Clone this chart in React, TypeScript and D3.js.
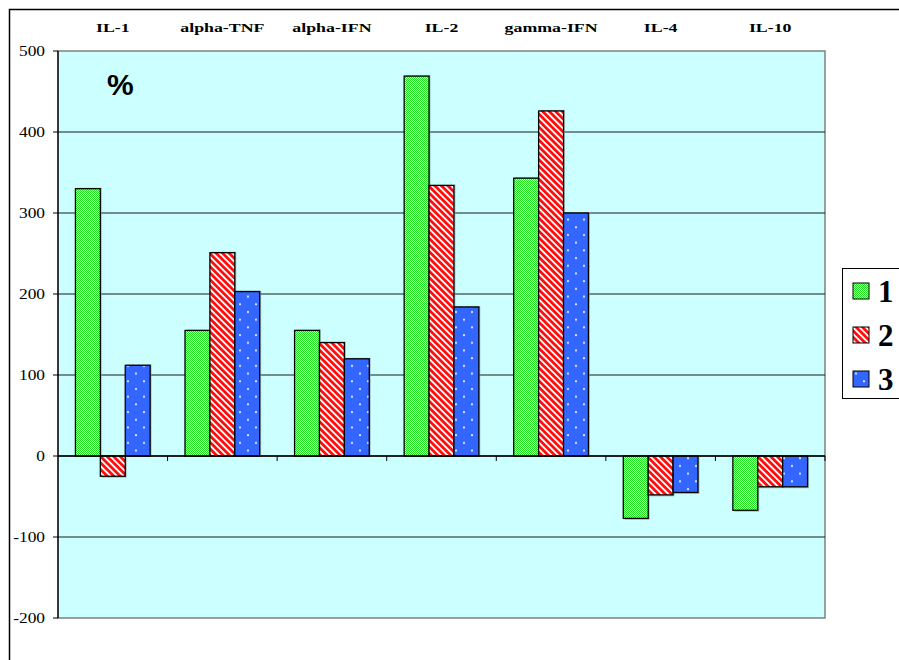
import React from "react";
import * as d3 from "d3";

// Cytokine change, % per group
const categories = ["IL-1", "alpha-TNF", "alpha-IFN", "IL-2", "gamma-IFN", "IL-4", "IL-10"];
const seriesNames = ["1", "2", "3"];
const series1 = [330, 155, 155, 469, 343, -77, -67];
const series2 = [-25, 251, 140, 334, 426, -48, -38];
const series3 = [112, 203, 120, 184, 300, -45, -38];
const yTicks = [-200, -100, 0, 100, 200, 300, 400, 500];

const W = 899;
const H = 660;
const plot = { left: 58, right: 825, top: 51, bottom: 618 };

const fills = ["url(#patGreen)", "url(#patRed)", "url(#patBlue)"];
const SERIF = "Liberation Serif, Tinos, Times New Roman, DejaVu Serif, serif";
const SANS = "Liberation Sans, Arimo, Arial, sans-serif";

export default function App() {
  const values = [series1, series2, series3];

  const x = d3
    .scaleBand<string>()
    .domain(categories)
    .range([plot.left, plot.right])
    .paddingInner(0)
    .paddingOuter(0);

  const gapRatio = 1.4;
  const barW = x.bandwidth() / (seriesNames.length + gapRatio);
  const groupOffset = (x.bandwidth() - barW * seriesNames.length) / 2;

  const y = d3.scaleLinear().domain([-200, 500]).range([plot.bottom, plot.top]);
  const y0 = y(0);

  return (
    <svg
      width={W}
      height={H}
      style={{ position: "fixed", left: 0, top: 0, background: "#fff" }}
    >
      <defs>
        <pattern id="patGreen" width={2} height={2} patternUnits="userSpaceOnUse">
          <rect width={2} height={2} fill="#b8ffb8" />
          <rect x={0} y={0} width={1} height={1} fill="#22e622" />
          <rect x={1} y={1} width={1} height={1} fill="#22e622" />
        </pattern>
        <pattern
          id="patRed"
          width={4.6}
          height={4.6}
          patternUnits="userSpaceOnUse"
          patternTransform="rotate(-45)"
        >
          <rect width={4.6} height={4.6} fill="#ffffff" />
          <rect width={2.8} height={4.6} fill="#ff0d0d" />
        </pattern>
        <pattern id="patBlue" width={16} height={15.4} patternUnits="userSpaceOnUse">
          <rect width={16} height={15.4} fill="#3366ff" />
          <circle cx={8} cy={4} r={1.1} fill="#e6eeff" />
          <circle cx={0} cy={11.7} r={1.1} fill="#e6eeff" />
          <circle cx={16} cy={11.7} r={1.1} fill="#e6eeff" />
        </pattern>
      </defs>

      {/* outer chart frame */}
      <rect x={9.5} y={9.5} width={1000} height={800} fill="none" stroke="#000" strokeWidth={1.5} />

      {/* plot area */}
      <rect
        x={plot.left}
        y={plot.top}
        width={plot.right - plot.left}
        height={plot.bottom - plot.top}
        fill="#ccffff"
        stroke="#808080"
        strokeWidth={1.5}
      />

      {/* gridlines */}
      {yTicks
        .filter((t) => t !== -200 && t !== 500)
        .map((t) => (
          <line
            key={"g" + t}
            x1={plot.left}
            x2={plot.right}
            y1={y(t)}
            y2={y(t)}
            stroke="#1a1a1a"
            strokeWidth={1}
          />
        ))}

      {/* bars */}
      {categories.map((c, i) => (
        <g key={c}>
          {values.map((vals, s) => {
            const v = vals[i];
            const bx = (x(c) as number) + groupOffset + s * barW;
            const top = Math.min(y(v), y0);
            const h = Math.abs(y(v) - y0);
            return (
              <g key={s}>
                <rect
                  x={bx + 1.5}
                  y={top + (v < 0 ? 1.5 : -1)}
                  width={barW}
                  height={h}
                  fill="#7f9f9f"
                  opacity={0.6}
                />
                <rect
                  x={bx}
                  y={top}
                  width={barW}
                  height={h}
                  fill={fills[s]}
                  stroke="#000"
                  strokeWidth={1.3}
                />
              </g>
            );
          })}
        </g>
      ))}

      {/* zero line and category ticks */}
      <line x1={plot.left} x2={plot.right} y1={y0} y2={y0} stroke="#000" strokeWidth={1.3} />
      {categories.map((c, i) => {
        const tx = (x(c) as number) + x.bandwidth();
        return (
          <line key={"ct" + i} x1={tx} x2={tx} y1={y0} y2={y0 + 5} stroke="#000" strokeWidth={1} />
        );
      })}

      {/* value axis */}
      <line x1={plot.left} x2={plot.left} y1={plot.top} y2={plot.bottom} stroke="#000" strokeWidth={1.3} />
      {yTicks.map((t) => (
        <g key={"yt" + t}>
          <line x1={plot.left - 5} x2={plot.left} y1={y(t)} y2={y(t)} stroke="#000" strokeWidth={1} />
          <text
            transform={`translate(45, ${y(t)}) scale(1.12, 1)`}
            textAnchor="end"
            dy="0.35em"
            style={{ fontFamily: SERIF }}
            fontSize={15.5}
            fill="#000"
          >
            {t}
          </text>
        </g>
      ))}

      {/* category labels along the top */}
      {categories.map((c) => (
        <text
          key={"cl" + c}
          transform={`translate(${(x(c) as number) + x.bandwidth() / 2}, 32) scale(1.32, 1)`}
          textAnchor="middle"
          style={{ fontFamily: SERIF }}
          fontWeight="bold"
          fontSize={13.5}
          fill="#000"
        >
          {c}
        </text>
      ))}

      {/* unit marker */}
      <text x={107} y={95} style={{ fontFamily: SANS }} fontWeight="bold" fontSize={30} fill="#000">
        %
      </text>

      {/* legend */}
      <rect x={842.5} y={268.5} width={80} height={130} fill="#fff" stroke="#000" strokeWidth={1} />
      {seriesNames.map((n, s) => {
        const cy = 291 + s * 44;
        return (
          <g key={"lg" + n}>
            <rect
              x={853}
              y={cy - 8}
              width={16}
              height={16}
              fill={fills[s]}
              stroke="#000"
              strokeWidth={1}
            />
            <text
              x={878}
              y={cy}
              dy="0.35em"
              style={{ fontFamily: SERIF }}
              fontWeight="bold"
              fontSize={31}
              fill="#000"
            >
              {n}
            </text>
          </g>
        );
      })}
    </svg>
  );
}
